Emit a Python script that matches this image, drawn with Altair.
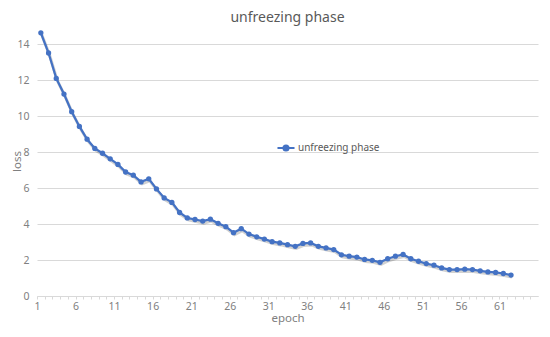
import altair as alt
import pandas as pd

series_name = "unfreezing phase"
epochs = list(range(1, 63))
loss = [14.62, 13.50, 12.09, 11.22, 10.24, 9.42, 8.71, 8.20, 7.93, 7.62,
        7.31, 6.89, 6.71, 6.34, 6.51, 5.95, 5.45, 5.20, 4.64, 4.34,
        4.25, 4.16, 4.27, 4.04, 3.85, 3.52, 3.74, 3.44, 3.29, 3.16,
        3.02, 2.95, 2.85, 2.76, 2.92, 2.95, 2.76, 2.67, 2.58, 2.29,
        2.21, 2.16, 2.03, 1.98, 1.87, 2.07, 2.21, 2.31, 2.07, 1.93,
        1.80, 1.71, 1.56, 1.47, 1.47, 1.49, 1.47, 1.40, 1.34, 1.31,
        1.25, 1.16]
x_categories = list(range(1, 66))
y_ticks = [0, 2, 4, 6, 8, 10, 12, 14]

df = pd.DataFrame({"epoch": epochs, "loss": loss, "series": [series_name] * len(epochs)})

FONT = "Noto Sans"
BLUE = "#4472C4"
GRAY_TXT = "#808080"
GRID = "#d9d9d9"

x_enc = alt.X(
    "epoch:Q",
    scale=alt.Scale(domain=[0.5, 65.5], nice=False, zero=False),
    axis=alt.Axis(
        values=x_categories,
        labelExpr="(datum.value - 1) % 5 == 0 ? datum.label : ''",
        title="epoch",
        grid=False,
        domainColor=GRID,
        tickColor=GRID,
        tickSize=3,
        tickOffset=-3.85,
        labelPadding=2,
        labelFontSize=10.5,
        labelColor=GRAY_TXT,
        labelFont=FONT,
        titleFont=FONT,
        titleFontSize=11.5,
        titleFontWeight="normal",
        titleColor=GRAY_TXT,
        titlePadding=1,
    ),
)
y_enc = alt.Y(
    "loss:Q",
    scale=alt.Scale(domain=[0, 15], nice=False),
    axis=alt.Axis(
        values=y_ticks,
        title="loss",
        domain=False,
        ticks=False,
        gridColor=GRID,
        labelPadding=8,
        labelFontSize=10.5,
        labelColor=GRAY_TXT,
        labelFont=FONT,
        titleFont=FONT,
        titleFontSize=11.5,
        titleFontWeight="normal",
        titleColor=GRAY_TXT,
        titleX=-15,
    ),
)

color_enc = alt.Color(
    "series:N",
    scale=alt.Scale(domain=[series_name], range=[BLUE]),
    legend=alt.Legend(
        title=None,
        orient="none",
        legendX=239,
        legendY=112,
        symbolType="M-1,0H1M-0.3,0A0.3,0.3,0,1,0,0.3,0A0.3,0.3,0,1,0,-0.3,0Z",
        symbolSize=290,
        symbolStrokeWidth=2,
        symbolFillColor=BLUE,
        symbolStrokeColor=BLUE,
        labelFont=FONT,
        labelFontSize=10,
        labelColor="#595959",
        labelOffset=2,
    ),
)

base = alt.Chart(df)

shadow = base.mark_line(color="#000000", opacity=0.18, strokeWidth=3, xOffset=1, yOffset=2).encode(
    x=x_enc, y=y_enc
)
line = base.mark_line(strokeWidth=2.25).encode(x=x_enc, y=y_enc, color=color_enc)
points = base.mark_point(filled=True, size=28, opacity=1).encode(x=x_enc, y=y_enc, color=color_enc)

chart = (
    alt.layer(shadow, line, points)
    .properties(
        width=501,
        height=270,
        title=alt.TitleParams(
            text="unfreezing phase",
            font=FONT,
            fontSize=14,
            fontWeight="normal",
            color="#595959",
            anchor="middle",
            offset=1,
        ),
        autosize=alt.AutoSizeParams(type="none"),
        padding={"left": 29, "top": 18, "right": 4, "bottom": 33},
    )
    .configure_view(stroke=None)
)

chart.save("out.html", embed_options={"renderer": "svg", "actions": False})
